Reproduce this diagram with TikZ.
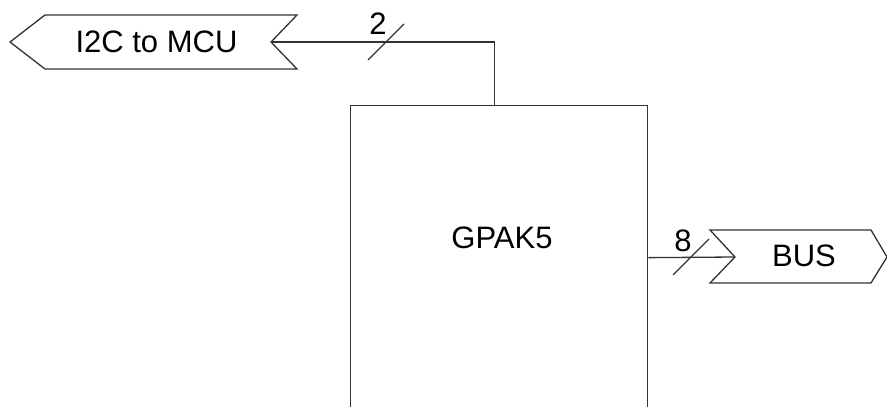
\documentclass[tikz,border=0pt]{standalone}
\usepackage{fontspec}
\setmainfont{Liberation Sans}
\usetikzlibrary{positioning, calc}

\tikzset{
    wire/.style={line width=1.3pt, draw=black!80},
    flag/.style={line width=1.3pt, draw=black!80, line join=miter},
    chipbox/.style={draw=black!80, line width=1.3pt, minimum width=297pt,
        minimum height=304pt, inner sep=0pt, anchor=north west},
    sigtext/.style={font=\fontsize{31}{37}\selectfont, inner sep=0pt},
    busslash/.style={line width=1.2pt, draw=black!80}
}

\begin{document}
\begin{tikzpicture}[x=1pt, y=-1pt]
    \useasboundingbox (0,0) rectangle (887,407);

    % Baustein
    \node[chipbox] (chip) at (350,105) {};
    \node[sigtext] (chipname) at (502,238) {GPAK5};

    % Signalfahne I2C (links)
    \draw[flag] (10,42) -- (45,15) -- (297,15) -- (271,42) -- (297,69) -- (45,69) -- cycle;
    \coordinate (i2cpin) at (271,42);
    \node[sigtext] (i2c) at (156.5,42) {I2C to MCU};

    % Signalfahne BUS (rechts)
    \draw[flag] (710,230) -- (871,230) -- (887,257) -- (871,283) -- (710,283) -- (735,257) -- cycle;
    \coordinate (buspin) at (735,257);
    \node[sigtext] (bus) at (804,256) {BUS};

    % Leitungen
    \draw[wire] ($(chip.north)+(-4.5,0)$) |- (i2cpin);
    \draw[wire] (chip.east) -- (buspin);

    % Busbreite
    \coordinate (i2cslash) at (386,42);
    \draw[busslash] (i2cslash) +(-18,18) -- +(18,-18);
    \node[sigtext] (i2cwidth) at ($(i2cslash)+(-8,-18)$) {2};

    \coordinate (busslash) at (691,257);
    \draw[busslash] (busslash) +(-18,18) -- +(18,-18);
    \node[sigtext] (buswidth) at ($(busslash)+(-8,-16.5)$) {8};
\end{tikzpicture}
\end{document}
